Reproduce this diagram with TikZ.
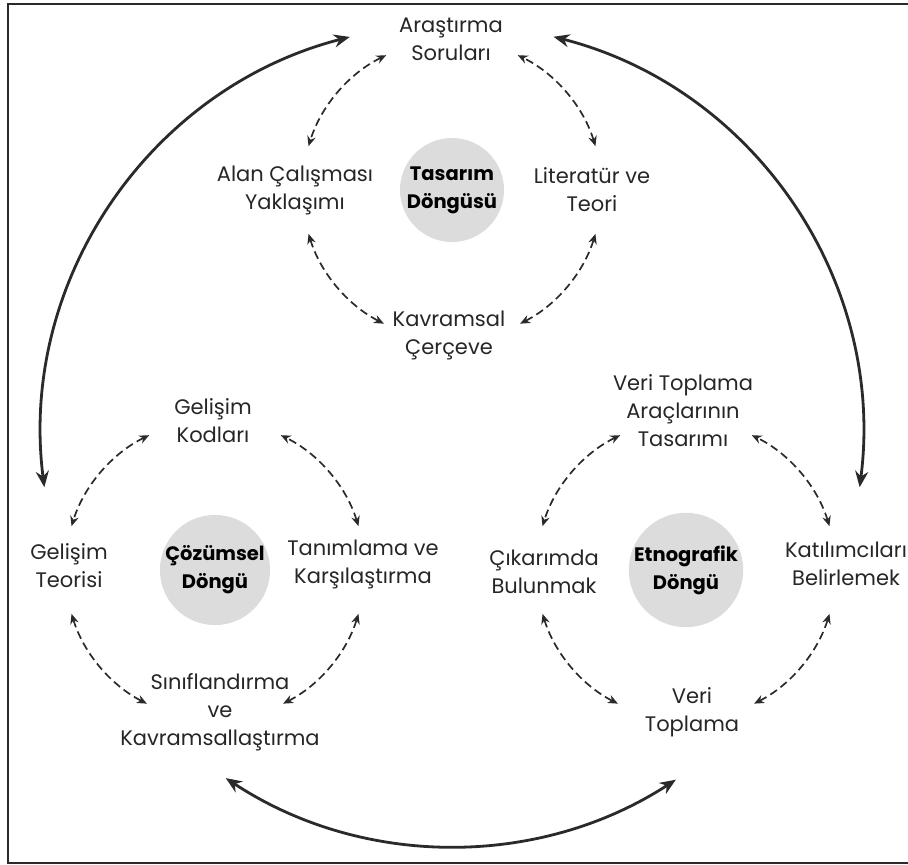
\documentclass[tikz,border=0pt]{standalone}
\usepackage{fontspec}
\setmainfont{Poppins}
\usetikzlibrary{arrows.meta}
\definecolor{txt}{HTML}{262626}
\definecolor{cgray}{HTML}{DCDCDC}
\definecolor{arrc}{HTML}{2A2A2A}
\begin{document}
\begin{tikzpicture}[x=1pt,y=1pt,
  lbl/.style={align=center,font=\fontsize{21}{28}\selectfont,text=txt,inner sep=0pt},
  cyc/.style={circle,fill=cgray,minimum size=104pt,inner sep=0pt,align=center,font=\fontsize{19.5}{28}\selectfont\bfseries,text=black},
  darr/.style={{Stealth[length=10pt,width=8.5pt]}-{Stealth[length=10pt,width=8.5pt]},dash pattern=on 8pt off 4.5pt,line width=1.7pt,draw=arrc},
  barr/.style={{Stealth[length=16pt,width=13pt]}-{Stealth[length=16pt,width=13pt]},line width=2.8pt,draw=arrc}]
\useasboundingbox (0,0) rectangle (908,-865);
\draw[line width=2pt,draw=arrc] (908,-3.5) -- (7.5,-3.5) -- (7.5,-863) -- (908,-863);

% design cycle
\node[cyc] (Tcyc) at (452,-190) {Tasarım\\Döngüsü};
\node[lbl] (soru) at (451,-39) {Araştırma\\Soruları};
\node[lbl] (alan) at (295,-190) {Alan Çalışması\\Yaklaşımı};
\node[lbl] (lit) at (592,-190) {Literatür ve\\Teori};
\node[lbl] (kavr) at (449,-335) {Kavramsal\\Çerçeve};

% analytic cycle
\node[cyc] (Lcyc) at (215,-570) {Çözümsel\\Döngü};
\node[lbl] (kod) at (213,-421) {Gelişim\\Kodları};
\node[lbl] (teo) at (69,-566) {Gelişim\\Teorisi};
\node[lbl] (tan) at (363,-564) {Tanımlama ve\\Karşılaştırma};
\node[lbl] (sin) at (220,-712) {Sınıflandırma\\ve\\Kavramsallaştırma};

% ethnographic cycle
\node[cyc] (Rcyc) at (686,-570) {Etnografik\\Döngü};
\node[lbl] (arac) at (683,-411) {Veri Toplama\\Araçlarının\\Tasarımı};
\node[lbl] (cik) at (544,-572) {Çıkarımda\\Bulunmak};
\node[lbl] (kat) at (846,-564) {Katılımcıları\\Belirlemek};
\node[lbl] (veri) at (692,-712) {Veri\\Toplama};

% dashed cycle arrows
\foreach \cn in {T,L,R}{
  \foreach \a/\b in {17/64, 116/163, 197/243, 297/343}{
    \draw[darr] ([shift={(\a:150)}]\cn cyc.center) arc[start angle=\a, end angle=\b, radius=150];
  }
}

% big arrows between cycles
\coordinate (big) at (452,-435);
\coordinate (bl) at ([shift={(187.3:411)}]big);
\coordinate (br) at ([shift={(-7.3:411)}]big);
\coordinate (bb) at ([shift={(236.6:411)}]big);
\draw[barr] (bl) arc[start angle=187.3, end angle=104.4, radius=411];
\draw[barr] (br) arc[start angle=-7.3, end angle=75.7, radius=411];
\draw[barr] (bb) arc[start angle=236.6, end angle=303, radius=411];
\end{tikzpicture}
\end{document}
